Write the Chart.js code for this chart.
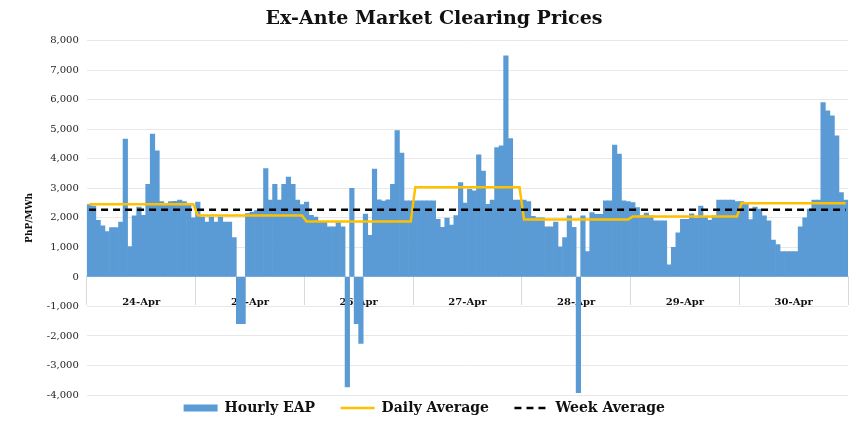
<!DOCTYPE html>
<html>
<head>
<meta charset="utf-8">
<script src="https://cdn.jsdelivr.net/npm/chart.js@4"></script>
<style>
  body { margin: 0; background: #fff; }
</style>
</head>
<body>
<canvas id="eap-chart" width="850" height="425"></canvas>
<script>
const days = ["24-Apr", "25-Apr", "26-Apr", "27-Apr", "28-Apr", "29-Apr", "30-Apr"];

// hourly ex-ante prices, PhP/MWh, one array per day
const apr24 = [2450, 2400, 1920, 1730, 1540, 1670, 1670, 1860, 4670, 1030, 2070, 2370, 2090, 3140, 4840, 4270, 2550, 2480, 2550, 2560, 2600, 2550, 2460, 2000];
const apr25 = [2540, 2030, 1860, 2030, 1860, 2030, 1860, 1860, 1330, -1580, -1580, 2150, 2200, 2250, 2250, 3670, 2600, 3140, 2600, 3140, 3380, 3140, 2600, 2450];
const apr26 = [2540, 2090, 2030, 1880, 1880, 1700, 1700, 1840, 1700, -3730, 3000, -1580, -2250, 2130, 1410, 3650, 2610, 2570, 2610, 3140, 4960, 4200, 2580, 2580];
const apr27 = [2580, 2580, 2580, 2580, 2580, 1950, 1680, 1990, 1760, 2080, 3200, 2500, 2970, 2920, 4140, 3590, 2460, 2600, 4380, 4440, 7490, 4690, 2600, 2600];
const apr28 = [2600, 2550, 2050, 2000, 2000, 1700, 1700, 1860, 1020, 1330, 2070, 1680, -3920, 2070, 860, 2180, 2120, 2120, 2580, 2580, 4470, 4160, 2580, 2550];
const apr29 = [2520, 2350, 2070, 2160, 2070, 1900, 1900, 1900, 410, 1000, 1490, 1950, 1950, 2140, 1990, 2400, 2050, 1920, 2070, 2600, 2600, 2600, 2600, 2550];
const apr30 = [2550, 2520, 1940, 2370, 2300, 2070, 1900, 1250, 1100, 860, 860, 860, 860, 1700, 2000, 2300, 2600, 2600, 5910, 5630, 5460, 4780, 2860, 2600];

const dailyAvg = [2460, 2080, 1880, 3040, 1950, 2050, 2500];
const weekAvg = 2280;

const hourly = [apr24, apr25, apr26, apr27, apr28, apr29, apr30];
const hourLabels = [];
const hourlyEAP = [];
const dailyLine = [];
const weekLine = [];
hourly.forEach((vals, d) => {
    vals.forEach((v, h) => {
        hourLabels.push(days[d] + " " + (h + 1));
        hourlyEAP.push(v);
        dailyLine.push(dailyAvg[d]);
        weekLine.push(weekAvg);
    });
});

const serif = "'DejaVu Serif', 'Liberation Serif', serif";

new Chart(document.getElementById("eap-chart"), {
    type: 'bar',
    data: {
        labels: hourLabels,
        datasets: [
            {
                label: "Hourly EAP",
                data: hourlyEAP,
                backgroundColor: "#5B9BD5",
                barPercentage: 1,
                categoryPercentage: 1,
                order: 3,
                legendWidth: 7
            },
            {
                type: 'line',
                label: "Daily Average",
                data: dailyLine,
                borderColor: "#FFC000",
                borderWidth: 2.5,
                pointRadius: 0,
                order: 2,
                legendWidth: 2.5
            },
            {
                type: 'line',
                label: "Week Average",
                data: weekLine,
                borderColor: "#000000",
                borderWidth: 2.5,
                borderDash: [7, 5],
                pointRadius: 0,
                order: 1,
                legendWidth: 2.5
            }
        ]
    },
    options: {
        responsive: false,
        animation: false,
        devicePixelRatio: 1,
        layout: { padding: { left: 20, right: 2, top: 0, bottom: 0 } },
        plugins: {
            title: {
                display: true,
                text: "Ex-Ante Market Clearing Prices",
                color: "#111",
                font: { family: serif, size: 19, weight: 'bold' },
                padding: { top: 8, bottom: 10 }
            },
            legend: {
                position: 'bottom',
                labels: {
                    usePointStyle: true,
                    pointStyleWidth: 34,
                    padding: 6,
                    color: "#111",
                    font: { family: serif, size: 14, weight: 'bold' },
                    generateLabels: (chart) => chart.data.datasets.map((ds, i) => ({
                        text: ds.label + "    ",
                        datasetIndex: i,
                        fillStyle: ds.borderColor || ds.backgroundColor,
                        strokeStyle: ds.borderColor || ds.backgroundColor,
                        lineWidth: ds.legendWidth,
                        lineDash: ds.borderDash || [],
                        pointStyle: 'line',
                        fontColor: "#111",
                        hidden: false
                    }))
                }
            },
            tooltip: { enabled: false }
        },
        scales: {
            x: {
                display: false
            },
            xDays: {
                type: 'category',
                labels: days,
                offset: true,
                position: { y: 0 },
                grid: {
                    offset: true,
                    drawOnChartArea: false,
                    tickLength: 28,
                    color: "#d9d9d9"
                },
                border: { display: true, color: "#d9d9d9" },
                ticks: {
                    padding: -9,
                    color: "#111",
                    font: { family: serif, size: 10, weight: 'bold' }
                }
            },
            y: {
                min: -4000,
                max: 8000,
                ticks: {
                    stepSize: 1000,
                    color: "#222",
                    padding: 8,
                    font: { family: serif, size: 10 },
                    callback: (v) => v.toLocaleString('en-US')
                },
                grid: { color: "#e8e8e8", drawTicks: false },
                border: { display: false },
                title: {
                    display: true,
                    text: "PhP/MWh",
                    color: "#111",
                    font: { family: serif, size: 9, weight: 'bold' },
                    padding: 4
                }
            }
        }
    }
});
</script>
</body>
</html>
